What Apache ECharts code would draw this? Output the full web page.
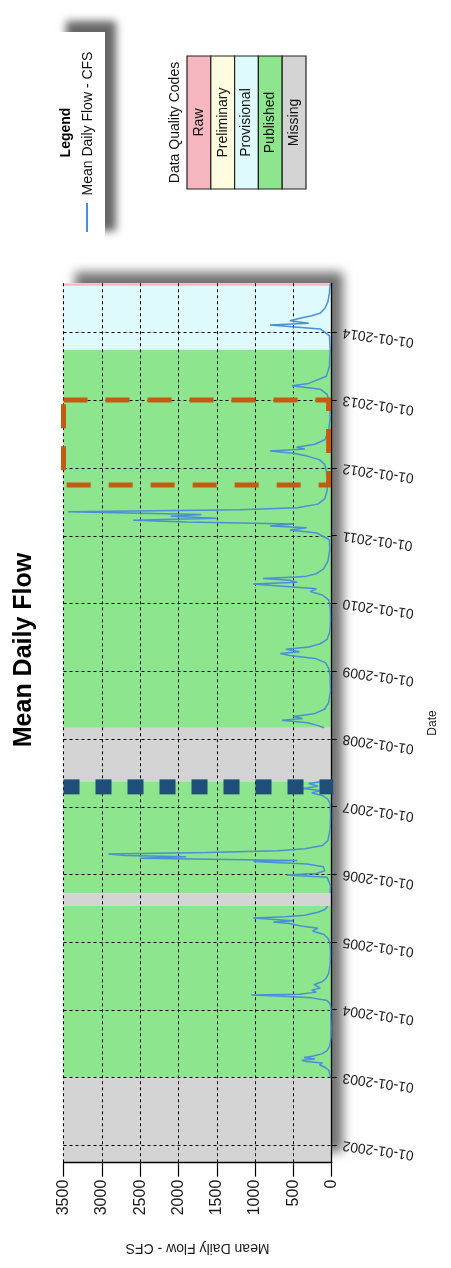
<!DOCTYPE html>
<html>
<head>
<meta charset="utf-8">
<script src="https://cdn.jsdelivr.net/npm/echarts@6/dist/echarts.min.js"></script>
<style>
html,body{margin:0;padding:0;background:#ffffff;}
#chart{width:451px;height:1268px;}
</style>
</head>
<body>
<div id="chart"></div>
<script>
// ---------------- DATA ----------------
const chartTitle = 'Mean Daily Flow';
const valueAxisName = 'Mean Daily Flow - CFS';
const dateAxisName = 'Date';
const seriesName = 'Mean Daily Flow - CFS';
const legendTitle = 'Legend';
const qualityTitle = 'Data Quality Codes';

const valueMin = 0;
const valueMax = 3500;
const valueStep = 500;

const dateRange = ['2001-09-28', '2014-09-23'];
const yearTickLabels = ['01-01-2002','01-01-2003','01-01-2004','01-01-2005','01-01-2006','01-01-2007',
  '01-01-2008','01-01-2009','01-01-2010','01-01-2011','01-01-2012','01-01-2013','01-01-2014'];

const qualityCodes = ['Raw', 'Preliminary', 'Provisional', 'Published', 'Missing'];

const bandStarts = ['2001-09-28','2003-01-01','2005-07-13','2005-09-20','2007-05-17','2008-03-01','2013-10-01','2014-09-10'];
const bandEnds   = ['2003-01-01','2005-07-13','2005-09-20','2007-05-17','2008-03-01','2013-10-01','2014-09-10','2014-09-23'];
const bandCodes  = ['Missing','Published','Missing','Published','Missing','Published','Provisional','Raw'];

const flowDates = [
 '2003-01-01','2003-01-20','2003-02-10','2003-02-25','2003-03-10','2003-03-20','2003-03-28','2003-04-03','2003-04-10','2003-04-18',
 '2003-04-25','2003-05-08','2003-05-25','2003-06-20','2003-08-01','2003-10-01','2003-12-01','2004-01-10','2004-02-01','2004-02-20',
 '2004-03-05','2004-03-15','2004-03-20','2004-03-25','2004-04-05','2004-04-15','2004-04-28','2004-05-15','2004-06-01','2004-06-20',
 '2004-07-15','2004-09-01','2004-11-01','2004-12-15','2005-01-15','2005-02-10','2005-03-01','2005-03-15','2005-03-28','2005-04-10',
 '2005-04-18','2005-04-25','2005-05-10','2005-05-16','2005-05-25','2005-06-10','2005-06-25','2005-07-12','2005-08-15','2005-09-21',
 '2005-11-01','2005-12-15','2005-12-28','2006-01-05','2006-01-20','2006-02-10','2006-02-25','2006-03-10','2006-03-16','2006-03-28',
 '2006-04-05','2006-04-12','2006-04-20','2006-04-28','2006-05-08','2006-05-18','2006-06-05','2006-07-01','2006-09-01','2006-11-15',
 '2007-01-15','2007-02-10','2007-03-01','2007-03-15','2007-03-28','2007-04-08','2007-04-20','2007-05-05','2007-05-16','2007-10-01',
 '2008-03-01','2008-03-15','2008-03-28','2008-04-10','2008-04-20','2008-05-01','2008-05-15','2008-06-10','2008-07-15','2008-09-15',
 '2008-12-01','2009-01-15','2009-02-15','2009-03-10','2009-03-25','2009-04-05','2009-04-15','2009-04-28','2009-05-10','2009-05-28',
 '2009-06-20','2009-08-01','2009-10-01','2009-12-15','2010-01-20','2010-02-15','2010-03-05','2010-03-20','2010-04-15','2010-04-25',
 '2010-05-05','2010-05-15','2010-05-25','2010-06-10','2010-07-05','2010-08-15','2010-10-15','2010-12-10','2011-01-15','2011-02-01',
 '2011-02-12','2011-02-22','2011-03-05','2011-03-15','2011-03-25','2011-04-05','2011-04-15','2011-04-25','2011-05-10','2011-05-20',
 '2011-06-01','2011-06-20','2011-07-20','2011-09-01','2011-11-01','2011-12-15','2012-01-20','2012-02-15','2012-03-05','2012-03-20',
 '2012-04-02','2012-04-12','2012-04-22','2012-05-08','2012-06-01','2012-07-15','2012-10-01','2012-12-15','2013-02-01','2013-03-01',
 '2013-03-20','2013-04-01','2013-04-15','2013-05-10','2013-07-01','2013-10-01','2013-12-15','2014-01-20','2014-02-10','2014-02-20',
 '2014-03-05','2014-03-20','2014-04-01','2014-04-15','2014-05-10','2014-06-15','2014-08-01','2014-09-20'
];
const flowValues = [
 15,25,40,90,160,120,330,390,220,360,
 250,130,60,25,10,8,12,10,20,60,
 260,700,1050,420,200,260,150,230,120,70,
 40,20,15,20,40,100,250,180,400,550,
 760,500,1025,600,350,180,90,50,null,20,
 15,60,590,200,90,110,320,1020,450,2500,
 1900,2700,2915,1630,700,350,120,50,20,15,
 20,50,120,260,150,375,180,300,120,null,
 100,200,320,650,380,500,230,90,40,15,
 20,40,80,220,550,670,420,600,300,150,
 60,25,15,20,40,120,280,200,1025,450,
 550,895,350,200,110,50,25,30,190,545,
 326,805,500,1900,2590,1500,2100,1700,3440,1200,
 450,180,90,60,50,70,90,160,320,500,
 805,350,460,220,90,40,20,25,60,150,
 520,300,220,70,30,20,30,150,805,300,
 545,400,260,150,90,50,30,20
];

const gapMarkerDate = '2007-04-17';
const highlightDates = ['2011-10-01', '2013-01-01'];
const highlightFlows = [40, 3500];

// ---------------- STYLE ----------------
const FONT = 'Liberation Sans, Arial, sans-serif';
const codeColors = {
  'Raw': '#F6B7C1',
  'Preliminary': '#FFFCE0',
  'Provisional': '#DEFAFC',
  'Published': '#8DE58D',
  'Missing': '#D4D4D4'
};
const lineColor = '#4A8FD8';

function ts(s) { const p = s.split('-').map(Number); return new Date(p[0], p[1] - 1, p[2]).getTime(); }
function tsMDY(s) { const p = s.split('-').map(Number); return new Date(p[2], p[0] - 1, p[1]).getTime(); }
function pad(n) { return (n < 10 ? '0' : '') + n; }
function fmtDate(v) { const d = new Date(v); return pad(d.getMonth() + 1) + '-' + pad(d.getDate()) + '-' + d.getFullYear(); }

const yearTicks = yearTickLabels.map(tsMDY);
const lineData = flowDates.map((d, i) => [flowValues[i] === null ? '-' : flowValues[i], ts(d)]);
const bandData = bandStarts.map((s, i) => [ts(s), ts(bandEnds[i]), qualityCodes.indexOf(bandCodes[i])]);
const gridData = yearTicks.map(t => [t, valueMax, valueMin]);

const G = { left: 63.5, right: 119.3, top: 283.3, bottom: 105.3 };
const W = 451, H = 1268;

const chart = echarts.init(document.getElementById('chart'), null, { renderer: 'canvas' });

const graphics = [];
graphics.push({
  type: 'rect', z: -20, silent: true,
  shape: { x: G.left, y: G.top, width: W - G.left - G.right, height: H - G.top - G.bottom },
  style: { fill: '#ffffff', shadowBlur: 10, shadowOffsetX: 11, shadowOffsetY: -11, shadowColor: 'rgba(0,0,0,0.55)' }
});
graphics.push({
  type: 'text', x: 24, y: 650, rotation: Math.PI / 2,
  style: { text: chartTitle, font: 'bold 25px ' + FONT, fill: '#000', align: 'center', verticalAlign: 'middle' }
});
graphics.push({
  type: 'rect', shape: { x: 55, y: 32, width: 50, height: 210 },
  style: { fill: '#ffffff', shadowBlur: 8, shadowOffsetX: 11, shadowOffsetY: -11, shadowColor: 'rgba(0,0,0,0.6)' }
});
graphics.push({
  type: 'text', x: 66, y: 132.5, rotation: Math.PI / 2,
  style: { text: legendTitle, font: 'bold 14px ' + FONT, fill: '#000', align: 'center', verticalAlign: 'middle' }
});
graphics.push({
  type: 'text', x: 88.5, y: 123.5, rotation: Math.PI / 2,
  style: { text: seriesName, font: '14px ' + FONT, fill: '#111', align: 'center', verticalAlign: 'middle' }
});
graphics.push({
  type: 'line', shape: { x1: 87, y1: 203, x2: 87, y2: 232 },
  style: { stroke: lineColor, lineWidth: 2 }
});
graphics.push({
  type: 'text', x: 175, y: 122.5, rotation: Math.PI / 2,
  style: { text: qualityTitle, font: '14px ' + FONT, fill: '#111', align: 'center', verticalAlign: 'middle' }
});
const cw = (306 - 187) / qualityCodes.length;
qualityCodes.forEach((c, i) => {
  graphics.push({
    type: 'rect', shape: { x: 187 + i * cw, y: 56, width: cw, height: 133 },
    style: { fill: codeColors[c], stroke: '#222', lineWidth: 1.2 }
  });
  graphics.push({
    type: 'text', x: 187 + i * cw + cw / 2, y: 122.5, rotation: Math.PI / 2,
    style: { text: c, font: '14px ' + FONT, fill: '#111', align: 'center', verticalAlign: 'middle' }
  });
});

const dashed = { color: '#000', width: 1, type: [3, 3] };

const option = {
  animation: false,
  backgroundColor: '#ffffff',
  grid: { left: G.left, right: G.right, top: G.top, bottom: G.bottom, containLabel: false, show: false },
  xAxis: {
    type: 'value', inverse: true, min: valueMin, max: valueMax, interval: valueStep, position: 'bottom',
    axisLine: { show: true, onZero: false, lineStyle: { color: '#000', width: 1.3 } },
    axisTick: { show: true, length: 14, lineStyle: { color: '#000', width: 1.2 } },
    axisLabel: { rotate: 90, fontSize: 16, fontFamily: FONT, color: '#1a1a1a', margin: 17,
      formatter: function (v) { return String(v); } },
    splitLine: { show: true, lineStyle: dashed },
    name: valueAxisName, nameLocation: 'middle', nameGap: 78, nameRotate: 180,
    nameTextStyle: { fontSize: 14, fontFamily: FONT, color: '#1a1a1a' }
  },
  yAxis: {
    type: 'value', position: 'right', min: ts(dateRange[0]), max: ts(dateRange[1]), scale: true,
    axisLine: { show: true, onZero: false, lineStyle: { color: '#000', width: 1.3 } },
    axisTick: { show: true, length: 5, customValues: yearTicks, lineStyle: { color: '#000' } },
    axisLabel: {
      customValues: yearTicks, rotate: 172, fontSize: 14, fontFamily: FONT, color: '#1a1a1a', margin: 11,
      formatter: function (v) { return fmtDate(v); }
    },
    splitLine: { show: false },
    name: dateAxisName, nameLocation: 'middle', nameGap: 95, nameRotate: 90,
    nameTextStyle: { fontSize: 12, fontFamily: FONT, color: '#1a1a1a' }
  },
  graphic: graphics,
  series: [
    {
      type: 'custom', name: 'bands', z: -5, clip: true, silent: true,
      encode: { y: [0, 1], x: 2 },
      data: bandData,
      renderItem: function (params, api) {
        const cs = params.coordSys;
        const yTop = api.coord([0, api.value(1)])[1];
        const yBot = api.coord([0, api.value(0)])[1];
        return { type: 'rect', shape: { x: cs.x, y: yTop, width: cs.width, height: yBot - yTop },
          style: { fill: codeColors[qualityCodes[api.value(2)]] } };
      }
    },
    {
      type: 'custom', name: 'yearGrid', z: -4, clip: false, silent: true,
      encode: { y: 0, x: [1, 2] },
      data: gridData,
      renderItem: function (params, api) {
        const p1 = api.coord([api.value(1), api.value(0)]);
        const p2 = api.coord([api.value(2), api.value(0)]);
        const y = Math.round(p1[1]) + 0.5;
        return { type: 'line', shape: { x1: p1[0], y1: y, x2: p2[0], y2: y },
          style: { stroke: '#000', lineWidth: 1, lineDash: [3, 3] } };
      }
    },
    {
      type: 'line', name: seriesName, data: lineData, showSymbol: false, z: 3, clip: true,
      lineStyle: { color: lineColor, width: 1.5 }, itemStyle: { color: lineColor }
    },
    {
      type: 'custom', name: 'gapMarker', z: 5, clip: false, silent: true,
      encode: { y: 0, x: [1, 2] },
      data: [[ts(gapMarkerDate), valueMax, valueMin]],
      renderItem: function (params, api) {
        const p1 = api.coord([api.value(1), api.value(0)]);
        const p2 = api.coord([api.value(2), api.value(0)]);
        return { type: 'line', shape: { x1: p1[0], y1: p1[1], x2: p2[0] + 1.5, y2: p2[1] },
          style: { stroke: '#1F4E79', lineWidth: 15, lineDash: [16, 16], lineCap: 'butt' } };
      }
    },
    {
      type: 'custom', name: 'highlight', z: 6, clip: false, silent: true,
      encode: { y: [0, 1], x: [2, 3] },
      data: [[ts(highlightDates[0]), ts(highlightDates[1]), highlightFlows[0], highlightFlows[1]]],
      renderItem: function (params, api) {
        const tl = api.coord([api.value(3), api.value(1)]);
        const br = api.coord([api.value(2), api.value(0)]);
        return { type: 'rect', shape: { x: tl[0], y: tl[1], width: br[0] - tl[0], height: br[1] - tl[1] },
          style: { fill: 'none', stroke: '#C55A11', lineWidth: 5, lineDash: [24, 18] } };
      }
    }
  ]
};
chart.setOption(option);
</script>
</body>
</html>
